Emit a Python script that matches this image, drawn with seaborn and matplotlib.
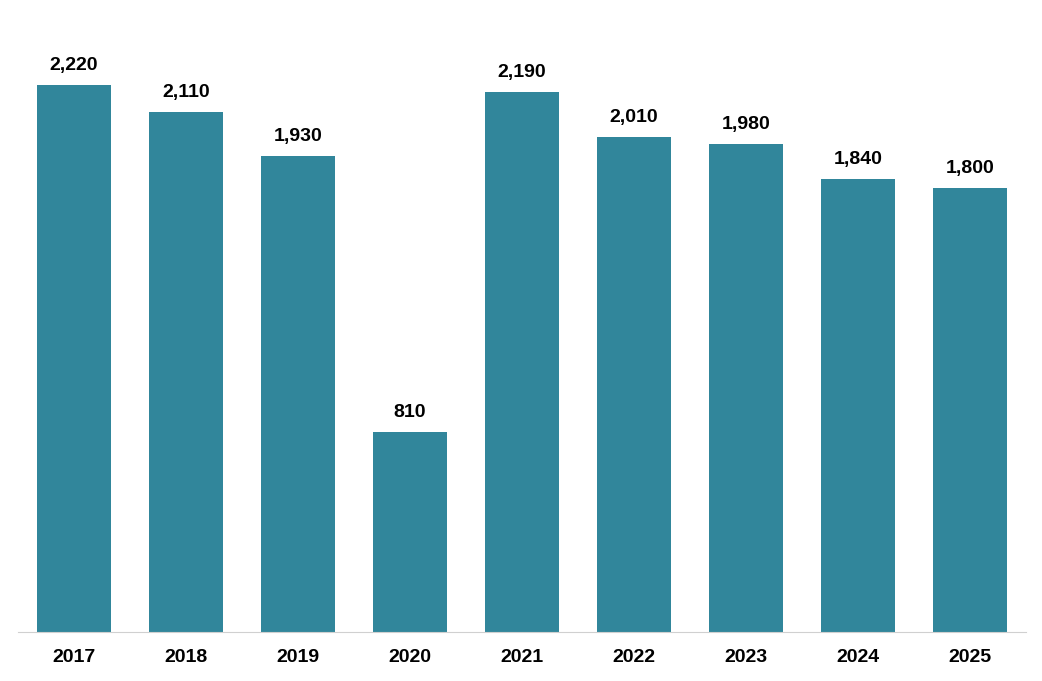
import matplotlib
matplotlib.use("Agg")
import matplotlib.pyplot as plt
import seaborn as sns
import pandas as pd

years = ["2017", "2018", "2019", "2020", "2021", "2022", "2023", "2024", "2025"]
values = [2220, 2110, 1930, 810, 2190, 2010, 1980, 1840, 1800]

df = pd.DataFrame({"year": years, "value": values})

plt.rcParams["font.family"] = "Liberation Sans"
fig = plt.figure(figsize=(10.42, 6.81), dpi=100)
ax = fig.add_axes([18 / 1042, 1 - 632 / 681, 1008 / 1042, 632 / 681])

sns.barplot(data=df, x="year", y="value", color="#31869B", saturation=1,
            width=0.66, ax=ax)

for i, v in enumerate(values):
    ax.text(i, v + 45, f"{v:,}", ha="center", va="bottom",
            fontsize=14, fontweight="bold", color="black")

ax.set_xlim(-0.5, 8.5)
ax.set_ylim(0, 2565)
ax.set_xlabel("")
ax.set_ylabel("")
ax.set_yticks([])
ax.tick_params(axis="x", length=0, pad=12, labelsize=14)
for lbl in ax.get_xticklabels():
    lbl.set_fontweight("bold")
for s in ["top", "right", "left"]:
    ax.spines[s].set_visible(False)
ax.spines["bottom"].set_color("#d0d0d0")

fig.savefig("out.png", dpi=100)
